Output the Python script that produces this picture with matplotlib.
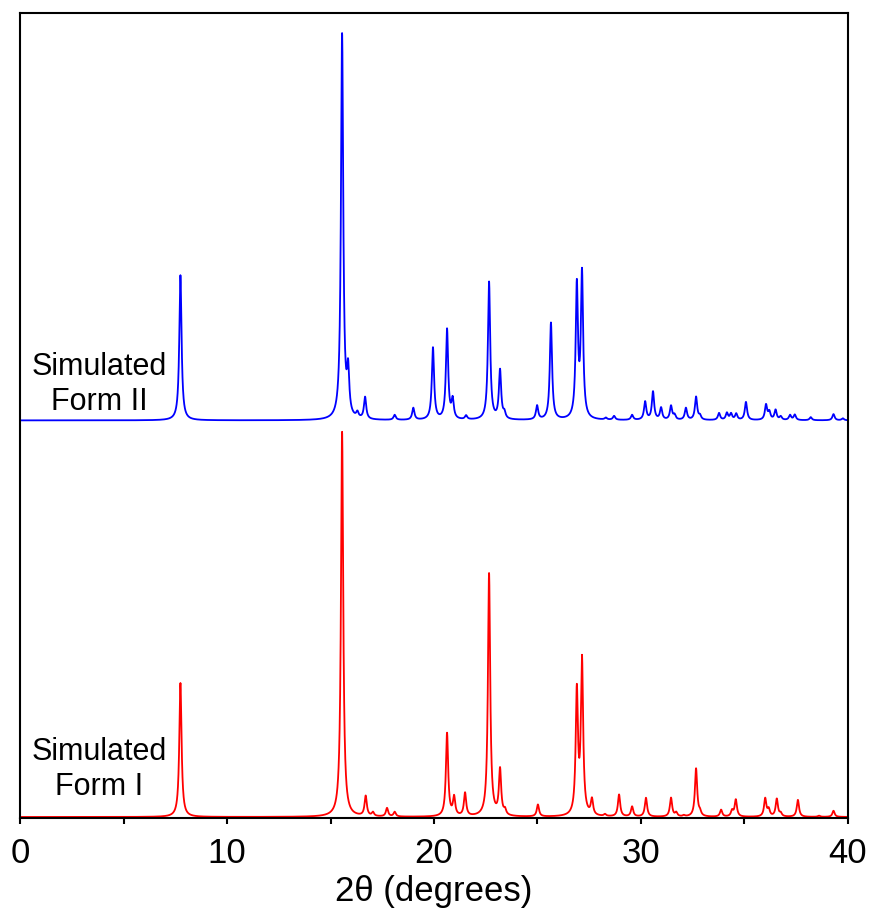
import numpy as np
import matplotlib.pyplot as plt
from matplotlib.ticker import MultipleLocator

plt.rcParams['font.family'] = ['Liberation Sans', 'DejaVu Sans']

# Peak lists: 2-theta (deg) and relative intensity (max = 100)
form2_pos = [7.75, 15.56, 15.85, 16.30, 16.67, 18.10, 19.00, 19.95, 20.63, 20.90,
             21.55, 22.66, 23.19, 23.40, 24.98, 25.65, 26.90, 27.15, 28.30, 28.70,
             29.57, 30.20, 30.58, 30.97, 31.45, 31.62, 32.17, 32.66, 32.85, 33.77,
             34.15, 34.35, 34.60, 35.07, 36.04, 36.20, 36.50, 36.75, 37.20, 37.43,
             38.20, 39.30, 39.75]
form2_int = [37.7, 100.0, 11.2, 1.4, 5.7, 1.3, 3.1, 18.7, 23.4, 4.9,
             1.0, 35.8, 12.7, 1.5, 3.6, 25.2, 34.3, 37.4, 0.5, 1.0,
             1.3, 4.7, 7.3, 3.1, 3.6, 1.2, 3.1, 6.0, 1.0, 1.8,
             1.8, 1.6, 1.6, 4.7, 3.9, 2.0, 2.6, 0.9, 1.3, 1.4,
             0.8, 1.6, 0.5]

form1_pos = [7.75, 15.56, 16.70, 17.05, 17.73, 18.10, 20.63, 20.97, 21.50, 22.66,
             23.19, 23.43, 25.02, 26.90, 27.15, 27.63, 28.26, 28.94, 29.57, 30.24,
             31.45, 31.70, 32.07, 32.66, 32.85, 33.87, 34.40, 34.58, 36.00, 36.17,
             36.56, 36.75, 37.58, 38.60, 39.30]
form1_int = [34.8, 100.0, 5.2, 1.0, 2.2, 1.2, 21.6, 4.8, 6.0, 63.1,
             11.9, 1.3, 3.1, 32.0, 40.0, 4.1, 0.5, 5.7, 2.6, 4.9,
             4.9, 1.0, 0.3, 12.5, 1.0, 1.8, 1.5, 4.4, 4.7, 1.8,
             4.6, 0.8, 4.4, 0.3, 1.6]

offset_form2 = 103.0
fwhm = 0.13


def pattern(tt, pos, inten):
    # simulated powder pattern: Lorentzian broadening of the peak list
    hw = fwhm / 2
    y = np.zeros_like(tt)
    for p, h in zip(pos, inten):
        y += h * hw**2 / ((tt - p)**2 + hw**2)
    return y


two_theta = np.linspace(0, 40, 8001)

fig = plt.figure(figsize=(8.7, 9.09), dpi=100)
ax = fig.add_axes([0.023, 0.1001, 0.9517, 0.8856])

ax.plot(two_theta, pattern(two_theta, form2_pos, form2_int) + offset_form2,
        color='#0000ff', lw=1.3)
ax.plot(two_theta, pattern(two_theta, form1_pos, form1_int),
        color='#ff0000', lw=1.3)

ax.set_xlim(0, 40)
ax.set_ylim(-0.26, 208.8)

ax.text(3.82, 114.8, "Simulated", ha='center', va='baseline', fontsize=22)
ax.text(3.82, 105.7, "Form II", ha='center', va='baseline', fontsize=22)
ax.text(3.82, 14.8, "Simulated", ha='center', va='baseline', fontsize=22)
ax.text(3.82, 5.7, "Form I", ha='center', va='baseline', fontsize=22)

ax.xaxis.set_major_locator(MultipleLocator(10))
ax.xaxis.set_minor_locator(MultipleLocator(5))
ax.tick_params(axis='x', which='both', direction='out', length=4, width=1.5,
               labelsize=25, pad=10)
ax.set_yticks([])
ax.set_xlabel("2θ (degrees)", fontsize=25, labelpad=3)

for s in ax.spines.values():
    s.set_linewidth(1.5)

fig.savefig("out.png", dpi=100)
